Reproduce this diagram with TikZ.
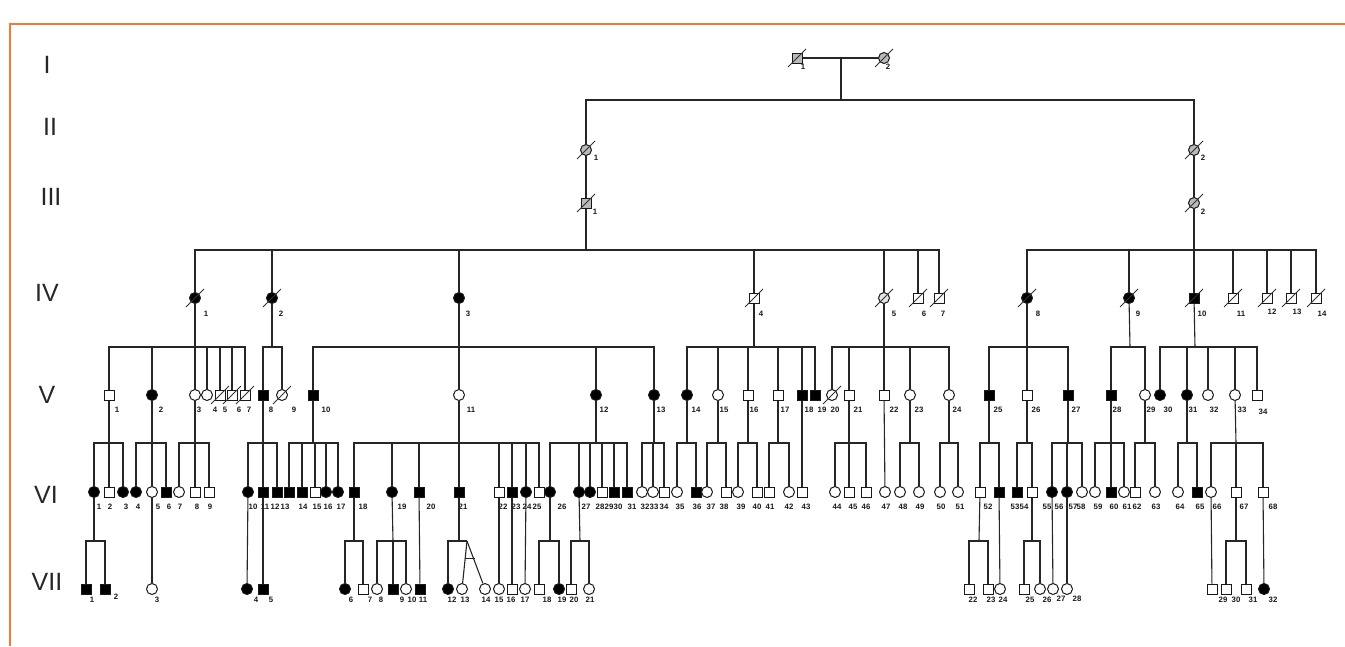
\documentclass[tikz,border=0pt]{standalone}
\usepackage{fontspec}
\setmainfont{Liberation Sans}
\usetikzlibrary{calc}
\definecolor{frameorange}{HTML}{ED7D31}
\tikzset{
  ln/.style={line width=1.1pt, draw=black!85},
  sym/.style={draw=black!90, line width=1pt, inner sep=0pt, fill=white},
  sq/.style={sym, rectangle, minimum size=10pt},
  sqf/.style={sq, fill=black},
  sqg/.style={sq, fill=gray!55},
  ci/.style={sym, circle, minimum size=11pt},
  cif/.style={ci, fill=black},
  cig/.style={ci, fill=gray!55},
  cil/.style={ci, fill=gray!20},
  num/.style={font=\fontsize{7.8}{8}\selectfont\bfseries, inner sep=0pt, text=black!90},
  genlab/.style={font=\fontsize{25}{27}\selectfont, text=black!85, inner sep=0pt},
  slash/.style={line width=0.8pt, draw=black!80}
}
\newcommand\pnode[5]{\node[#3] (#1) at (#2,\gy) {};\node[num] (#1l) at (#5,\gy+\ly) {#4};}
\newcommand\dslash[1]{\draw[slash] ([shift={(-9,9)}]#1.center) -- ([shift={(9,-9)}]#1.center);}
\newcommand\sibs[5]{\coordinate (#2) at (#3,#4);\draw[ln] (#1) -- (#2);\foreach \ch in {#5} {\draw[ln] (#2) -| (\ch);}}
\newcommand\ddown[2]{\draw[ln] (#1) -- (#2);}
\begin{document}
\begin{tikzpicture}[x=1pt,y=-1pt]
\useasboundingbox (0,0) rectangle (1345,646);
\fill[white] (0,0) rectangle (1345,646);
\draw[frameorange, line width=2.5pt] (10,646) -- (10,24) -- (1345,24);
% generation labels
\node[genlab] (gI) at (47,65) {I};
\node[genlab] (gII) at (50,127) {II};
\node[genlab] (gIII) at (51,197) {III};
\node[genlab] (gIV) at (47,293) {IV};
\node[genlab] (gV) at (47,395) {V};
\node[genlab] (gVI) at (46,495) {VI};
\node[genlab] (gVII) at (47,582) {VII};
% Gen I
\def\gy{58}\def\ly{9}
\pnode{a1}{797}{sqg}{1}{803}
\pnode{a2}{884}{cig}{2}{888}
% Gen II
\def\gy{150}\def\ly{8}
\pnode{b1}{586}{cig}{1}{596}
\pnode{b2}{1194}{cig}{2}{1203}
% Gen III
\def\gy{203}\def\ly{9}
\pnode{c1}{586}{sqg}{1}{595}
\pnode{c2}{1194}{cig}{2}{1203}
% Gen IV
\def\gy{298}\def\ly{16}
\pnode{d1}{195}{cif}{1}{206}
\pnode{d2}{272}{cif}{2}{281}
\pnode{d3}{459}{cif}{3}{468}
\pnode{d4}{754}{sq}{4}{761}
\pnode{d5}{884}{cil}{5}{894}
\pnode{d6}{918}{sq}{6}{924}
\pnode{d7}{939}{sq}{7}{943}
\pnode{d8}{1027}{cif}{8}{1038}
\pnode{d9}{1129}{cif}{9}{1138}
\pnode{d10}{1194}{sqf}{10}{1202}
\pnode{d11}{1233}{sq}{11}{1241}
\def\ly{14}
\pnode{d12}{1267}{sq}{12}{1272}
\pnode{d13}{1291}{sq}{13}{1297}
\def\ly{16}
\pnode{d14}{1316}{sq}{14}{1322}
% Gen V
\def\gy{395}\def\ly{15}
\pnode{e1}{109}{sq}{1}{117}
\pnode{e2}{152}{cif}{2}{161}
\pnode{e3}{195}{ci}{3}{199}
\pnode{e4}{207}{ci}{4}{215}
\pnode{e5}{220}{sq}{5}{225}
\pnode{e6}{232}{sq}{6}{239}
\pnode{e7}{245}{sq}{7}{249}
\pnode{e8}{263}{sqf}{8}{271}
\pnode{e9}{282}{ci}{9}{294}
\pnode{e10}{313}{sqf}{10}{326}
\pnode{e11}{459}{ci}{11}{471}
\pnode{e12}{596}{cif}{12}{604}
\pnode{e13}{654}{cif}{13}{661}
\pnode{e14}{687}{cif}{14}{696}
\pnode{e15}{718}{ci}{15}{724}
\pnode{e16}{748}{sq}{16}{754}
\pnode{e17}{778}{sq}{17}{785}
\pnode{e18}{802}{sqf}{18}{809}
\pnode{e19}{815}{sqf}{19}{822}
\pnode{e20}{832}{ci}{20}{835}
\pnode{e21}{849}{sq}{21}{858}
\pnode{e22}{884}{sq}{22}{894}
\pnode{e23}{910}{ci}{23}{919}
\pnode{e24}{949}{ci}{24}{957}
\pnode{e25}{989}{sqf}{25}{998}
\pnode{e26}{1027}{sq}{26}{1036}
\pnode{e27}{1068}{sqf}{27}{1076}
\pnode{e28}{1111}{sqf}{28}{1117}
\pnode{e29}{1145}{ci}{29}{1151}
\pnode{e30}{1160}{cif}{30}{1168}
\pnode{e31}{1187}{cif}{31}{1193}
\pnode{e32}{1208}{ci}{32}{1214}
\pnode{e33}{1235}{ci}{33}{1242}
\def\ly{17}
\pnode{e34}{1257}{sq}{34}{1263}
% Gen VI
\def\gy{492}\def\ly{15}
\pnode{f1}{94}{cif}{1}{99}
\pnode{f2}{109}{sq}{2}{110}
\pnode{f3}{123}{cif}{3}{126}
\pnode{f4}{136}{cif}{4}{138}
\pnode{f5}{152}{ci}{5}{158}
\pnode{f6}{166}{sqf}{6}{169}
\pnode{f7}{179}{ci}{7}{180}
\pnode{f8}{195}{sq}{8}{197}
\pnode{f9}{209}{sq}{9}{210}
\pnode{f10}{248}{cif}{10}{253}
\pnode{f11}{263}{sqf}{11}{265}
\pnode{f12}{277}{sqf}{12}{275}
\pnode{f13}{289}{sqf}{13}{285}
\pnode{f14}{302}{sqf}{14}{303}
\pnode{f15}{315}{sq}{15}{317}
\pnode{f16}{326}{cif}{16}{328}
\pnode{f17}{338}{cif}{17}{341}
\pnode{f18}{354}{sqf}{18}{363}
\pnode{f19}{392}{cif}{19}{402}
\pnode{f20}{419}{sqf}{20}{431}
\pnode{f21}{459}{sqf}{21}{463}
\pnode{f22}{499}{sq}{22}{503}
\pnode{f23}{512}{sqf}{23}{516}
\pnode{f24}{526}{cif}{24}{527}
\pnode{f25}{539}{sq}{25}{537}
\pnode{f26}{550}{cif}{26}{562}
\pnode{f27}{579}{cif}{27}{586}
\pnode{f28}{590}{cif}{28}{600}
\pnode{f29}{602}{sq}{29}{609}
\pnode{f30}{614}{sqf}{30}{618}
\pnode{f31}{627}{sqf}{31}{632}
\pnode{f32}{642}{ci}{32}{645}
\pnode{f33}{653}{ci}{33}{654}
\pnode{f34}{664}{sq}{34}{664}
\pnode{f35}{677}{ci}{35}{680}
\pnode{f36}{696}{sqf}{36}{697}
\pnode{f37}{707}{ci}{37}{711}
\pnode{f38}{726}{sq}{38}{724}
\pnode{f39}{738}{ci}{39}{741}
\pnode{f40}{757}{sq}{40}{757}
\pnode{f41}{769}{sq}{41}{770}
\pnode{f42}{789}{ci}{42}{789}
\pnode{f43}{802}{sq}{43}{806}
\pnode{f44}{835}{ci}{44}{837}
\pnode{f45}{849}{sq}{45}{853}
\pnode{f46}{866}{sq}{46}{866}
\pnode{f47}{885}{ci}{47}{886}
\pnode{f48}{900}{ci}{48}{903}
\pnode{f49}{919}{ci}{49}{920}
\pnode{f50}{940}{ci}{50}{941}
\pnode{f51}{958}{ci}{51}{960}
\pnode{f52}{980}{sq}{52}{988}
\pnode{f53}{999}{sqf}{53}{1015}
\pnode{f54}{1017}{sqf}{54}{1024}
\pnode{f55}{1032}{sq}{55}{1047}
\pnode{f56}{1052}{cif}{56}{1059}
\pnode{f57}{1067}{cif}{57}{1073}
\pnode{f58}{1082}{ci}{58}{1081}
\pnode{f59}{1095}{ci}{59}{1098}
\pnode{f60}{1111}{sqf}{60}{1114}
\pnode{f61}{1124}{ci}{61}{1127}
\pnode{f62}{1135}{sq}{62}{1137}
\pnode{f63}{1155}{ci}{63}{1156}
\pnode{f64}{1178}{ci}{64}{1180}
\pnode{f65}{1197}{sqf}{65}{1200}
\pnode{f66}{1211}{ci}{66}{1217}
\pnode{f67}{1236}{sq}{67}{1244}
\pnode{f68}{1263}{sq}{68}{1273}
% Gen VII
\def\gy{589}\def\ly{11}
\pnode{g1}{86}{sqf}{1}{92}
\def\ly{8}
\pnode{g2}{105}{sqf}{2}{116}
\def\ly{11}
\pnode{g3}{152}{ci}{3}{157}
\pnode{g4}{247}{cif}{4}{256}
\pnode{g5}{263}{sqf}{5}{271}
\pnode{g6}{345}{cif}{6}{351}
\pnode{g7}{363}{sq}{7}{370}
\pnode{g8}{377}{ci}{8}{381}
\pnode{g9}{393}{sqf}{9}{402}
\pnode{g10}{406}{ci}{10}{412}
\pnode{g11}{420}{sqf}{11}{423}
\pnode{g12}{448}{cif}{12}{452}
\pnode{g13}{462}{ci}{13}{465}
\pnode{g14}{485}{ci}{14}{486}
\pnode{g15}{499}{ci}{15}{499}
\pnode{g16}{512}{sq}{16}{511}
\pnode{g17}{525}{ci}{17}{525}
\pnode{g18}{539}{sq}{18}{547}
\pnode{g19}{559}{cif}{19}{562}
\pnode{g20}{571}{sq}{20}{574}
\pnode{g21}{589}{ci}{21}{590}
\pnode{g22}{969}{sq}{22}{973}
\pnode{g23}{988}{sq}{23}{991}
\pnode{g24}{1000}{ci}{24}{1003}
\pnode{g25}{1024}{sq}{25}{1030}
\pnode{g26}{1040}{ci}{26}{1047}
\def\ly{10}
\pnode{g27}{1053}{ci}{27}{1061}
\pnode{g28}{1067}{ci}{28}{1077}
\def\ly{11}
\pnode{g29}{1212}{sq}{29}{1223}
\pnode{g30}{1226}{sq}{30}{1236}
\pnode{g31}{1246}{sq}{31}{1253}
\pnode{g32}{1264}{cif}{32}{1273}
% slashes
\foreach \n in {a1,a2,b1,b2,c1,c2,d1,d2,d4,d5,d6,d7,d8,d9,d10,d11,d12,d13,d14,e5,e6,e7,e9,e20} {\dslash{\n}}
% connectors I -> II -> III
\draw[ln] (a1) -- (a2);
\coordinate (j0m) at (841,58);
\sibs{j0m}{j0}{841}{100}{b1,b2}
\ddown{b1}{c1}
\ddown{b2}{c2}
% III -> IV
\sibs{c1}{j1}{586}{250}{d1,d2,d3,d4,d5,d6,d7}
\sibs{c2}{j2}{1194}{250}{d8,d9,d10,d11,d12,d13,d14}
% IV -> V
\sibs{d1}{jd1}{195}{347}{e1,e2,e3,e4,e5,e6,e7}
\sibs{d2}{jd2}{272}{347}{e8,e9}
\sibs{d3}{jd3}{459}{347}{e10,e11,e12,e13}
\sibs{d4}{jd4}{754}{347}{e14,e15,e16,e17,e18,e19}
\sibs{d5}{jd5}{884}{347}{e20,e21,e22,e23,e24}
\sibs{d8}{jd8}{1027}{347}{e25,e26,e27}
\sibs{d9}{jd9}{1130}{347}{e28,e29}
\sibs{d10}{jd10}{1195}{347}{e30,e31,e32,e33,e34}
% V -> VI
\sibs{e1}{je1}{109}{443}{f1,f2,f3}
\sibs{e2}{je2}{152}{443}{f4,f5,f6}
\sibs{e3}{je3}{195}{443}{f7,f8,f9}
\sibs{e8}{je8}{263}{443}{f10,f11,f12}
\sibs{e10}{je10}{313}{443}{f13,f14,f15,f16,f17}
\sibs{e11}{je11}{459}{443}{f18,f19,f20,f21,f22,f23,f24,f25}
\sibs{e12}{je12}{596}{443}{f26,f27,f28,f29,f30,f31}
\sibs{e13}{je13}{654}{443}{f32,f33,f34}
\sibs{e14}{je14}{687}{443}{f35,f36}
\sibs{e15}{je15}{718}{443}{f37,f38}
\sibs{e16}{je16}{748}{443}{f39,f40}
\sibs{e17}{je17}{778}{443}{f41,f42}
\ddown{e18}{f43}
\sibs{e21}{je21}{849}{443}{f44,f45,f46}
\ddown{e22}{f47}
\sibs{e23}{je23}{910}{443}{f48,f49}
\sibs{e24}{je24}{949}{443}{f50,f51}
\sibs{e25}{je25}{989}{443}{f52,f53}
\sibs{e26}{je26}{1027}{443}{f54,f55}
\sibs{e27}{je27}{1068}{443}{f56,f57,f58}
\sibs{e28}{je28}{1111}{443}{f59,f60,f61}
\sibs{e29}{je29}{1145}{443}{f62,f63}
\sibs{e31}{je31}{1187}{443}{f64,f65}
\sibs{e33}{je33}{1236}{443}{f66,f67,f68}
% VI -> VII
\sibs{f1}{jf1}{94}{541}{g1,g2}
\ddown{f5}{g3}
\ddown{f10}{g4}
\ddown{f11}{g5}
\sibs{f18}{jf18}{354}{541}{g6,g7}
\sibs{f19}{jf19}{393}{541}{g8,g9,g10}
\ddown{f20}{g11}
\sibs{f21}{jf21}{459}{541}{g12}
\coordinate (tw) at (467,541);
\draw[ln] (jf21) -- (tw);
\draw[ln] (tw) -- (g13);
\draw[ln] (tw) -- (g14);
\draw[ln] ($(tw)!0.42!(g13.north)$) -- ($(tw)!0.42!(g14.north)$);
\ddown{f22}{g15}
\ddown{f23}{g16}
\ddown{f24}{g17}
\sibs{f26}{jf26}{550}{541}{g18,g19}
\sibs{f27}{jf27}{580}{541}{g20,g21}
\sibs{f52}{jf52}{979}{541}{g22,g23}
\ddown{f53}{g24}
\sibs{f55}{jf55}{1032}{541}{g25,g26}
\ddown{f56}{g27}
\ddown{f57}{g28}
\ddown{f66}{g29}
\sibs{f67}{jf67}{1236}{541}{g30,g31}
\ddown{f68}{g32}
\end{tikzpicture}
\end{document}
